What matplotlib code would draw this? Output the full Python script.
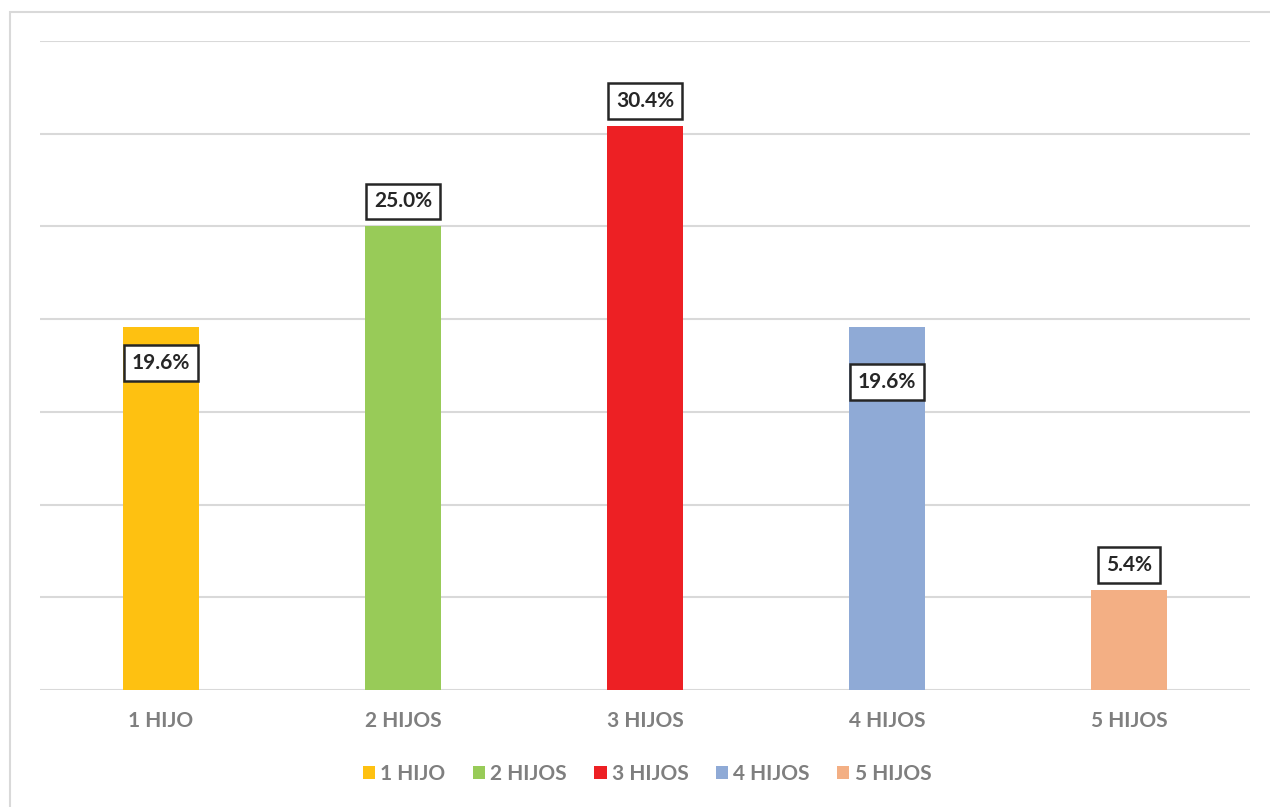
import matplotlib
matplotlib.use("Agg")
import matplotlib.pyplot as plt
from matplotlib.patches import Patch, Rectangle

plt.rcParams["font.family"] = ["Lato", "DejaVu Sans"]
plt.rcParams["font.weight"] = "bold"

categories = ["1 HIJO", "2 HIJOS", "3 HIJOS", "4 HIJOS", "5 HIJOS"]
values = [19.6, 25.0, 30.4, 19.6, 5.4]
colors = ["#FEC111", "#98CB58", "#ED2024", "#8FAAD6", "#F3AF84"]
# vertical offset (points) of each value label from the bar top
label_offsets = [-26, 18, 18, -40, 18]

fig = plt.figure(figsize=(12.7, 8.07), dpi=100)
ax = fig.add_axes([40 / 1270, 117 / 807, 1210 / 1270, 649 / 807])

x = list(range(len(categories)))
ax.bar(x, values, width=0.31, color=colors, zorder=3)

ax.set_xlim(-0.5, len(categories) - 0.5)
ax.set_ylim(0, 35)
ax.set_yticks(range(0, 36, 5))
ax.yaxis.grid(True, color="#D9D9D9", linewidth=1.5, zorder=0)
ax.tick_params(axis="y", length=0, labelleft=False)
ax.tick_params(axis="x", length=0, pad=15, labelsize=15, labelcolor="#7F7F7F")
ax.set_xticks(x)
ax.set_xticklabels(categories, fontweight="bold")
for s in ax.spines.values():
    s.set_visible(False)

for xi, v, off in zip(x, values, label_offsets):
    ax.annotate(f"{v:.1f}%", xy=(xi, v), xytext=(0, off), textcoords="offset points",
                ha="center", va="center", fontsize=15, fontweight="bold", color="#262626",
                bbox=dict(boxstyle="square,pad=0.38", facecolor="white",
                          edgecolor="#262626", linewidth=1.8), zorder=5)

handles = [Patch(facecolor=c, edgecolor="none", label=l) for c, l in zip(colors, categories)]
leg = fig.legend(handles=handles, loc="center", bbox_to_anchor=(647 / 1270, 1 - 774 / 807),
                 ncol=5, frameon=False, fontsize=15, handlelength=0.6, handleheight=0.6,
                 handletextpad=0.25, columnspacing=1.3)
for t in leg.get_texts():
    t.set_color("#7F7F7F")
    t.set_fontweight("bold")

# chart area outline
fig.patches.append(Rectangle((10 / 1270, -0.02), 1.05, 1 - 12 / 807 + 0.02,
                             transform=fig.transFigure, fill=False,
                             edgecolor="#D9D9D9", linewidth=1.5))

fig.savefig("out.png", dpi=100)
